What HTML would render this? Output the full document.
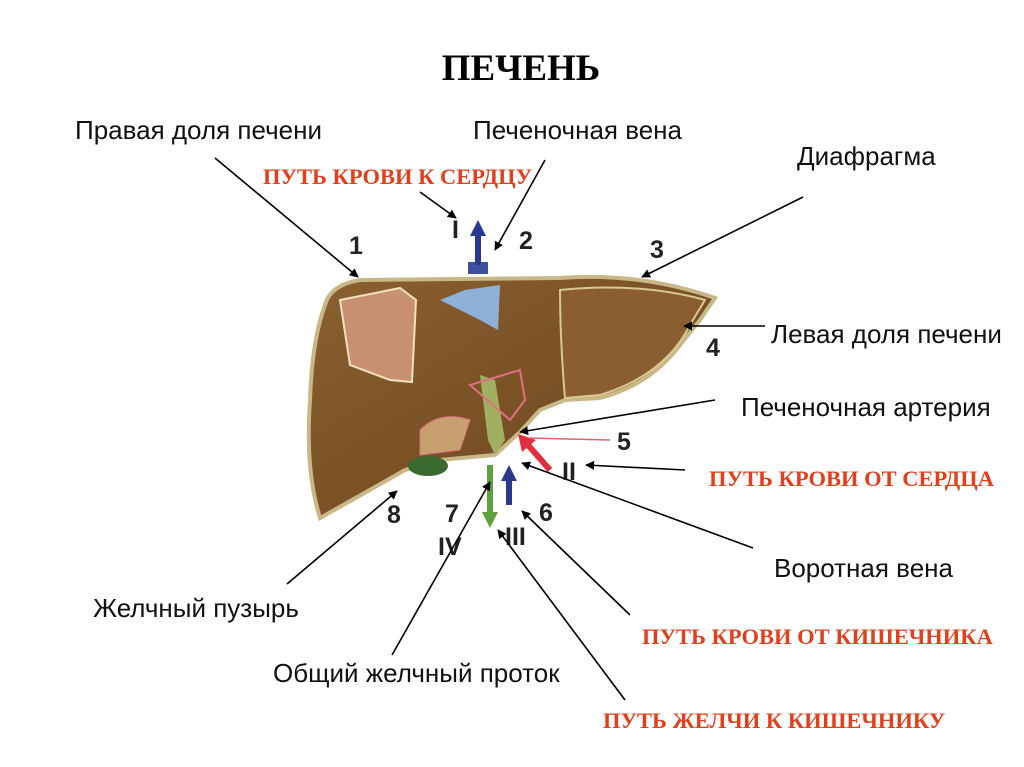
<!DOCTYPE html>
<html><head><meta charset="utf-8"><style>
body{margin:0;background:#fff;}
svg{display:block}
.t{font-family:"Liberation Sans",sans-serif;font-size:26px;fill:#111}
.r{font-family:"Liberation Serif",serif;font-weight:bold;font-size:22.5px;fill:#e0401c}
.n{font-family:"Liberation Sans",sans-serif;font-weight:bold;font-size:25px;fill:#222}
.l{stroke:#000;stroke-width:1.6;fill:none;marker-end:url(#a)}
</style></head><body>
<svg width="1024" height="767" viewBox="0 0 1024 767">
<defs>
<marker id="a" viewBox="0 0 10 10" refX="9" refY="5" markerWidth="9" markerHeight="9" orient="auto" markerUnits="userSpaceOnUse"><path d="M0,0L10,5L0,10z" fill="#000"/></marker>
<linearGradient id="g" x1="0" y1="0" x2="1" y2="1"><stop offset="0" stop-color="#8a6030"/><stop offset=".5" stop-color="#7a5226"/><stop offset="1" stop-color="#6a4520"/></linearGradient>
</defs>
<text x="521" y="80" text-anchor="middle" style="font-family:'Liberation Serif',serif;font-weight:bold;font-size:37px">ПЕЧЕНЬ</text>
<!-- liver -->
<path d="M325,305 Q330,285 360,280 L560,278 Q640,272 715,298 L700,320 L680,345 Q650,385 600,398 L565,400 L540,410 L520,432 L495,455 L440,460 L405,470 Q370,490 320,518 Q305,470 310,400 Q312,340 325,305 Z" fill="url(#g)" stroke="#c8b888" stroke-width="4"/>
<path d="M560,290 Q640,282 705,300 L690,325 Q665,375 600,395 L565,398 Q560,340 560,290Z" fill="#8a5e30" stroke="#d8c890" stroke-width="2"/>
<path d="M340,300 L400,288 L416,300 L412,382 L390,380 L350,365 Z" fill="#c89070" stroke="#f0e0c0" stroke-width="2"/>
<path d="M468,262 h20 v12 h-20z" fill="#4050a0"/>
<path d="M465,290 L500,285 L498,330 L480,320 L440,300Z" fill="#8fb0d8"/>
<path d="M480,375 L495,380 L505,440 L495,455 L488,440 Z" fill="#a0b060"/>
<path d="M470,385 L520,370 L525,400 L510,420 Z" fill="none" stroke="#e07080" stroke-width="2"/>
<path d="M420,430 Q440,410 470,420 L460,450 L420,455Z" fill="#c8a070" stroke="#e07080"/>
<ellipse cx="428" cy="466" rx="20" ry="10" fill="#3a6a30"/>
<!-- vessel arrows -->
<path d="M478,265 V232" stroke="#283a90" stroke-width="6"/><path d="M470,236 L478,220 L486,236Z" fill="#283a90"/>
<path d="M490,465 V515" stroke="#60a040" stroke-width="6"/><path d="M482,512 L490,528 L498,512Z" fill="#60a040"/>
<path d="M509,505 V478" stroke="#283a90" stroke-width="6"/><path d="M501,481 L509,465 L517,481Z" fill="#283a90"/>
<path d="M550,470 L528,445" stroke="#e03040" stroke-width="6"/><path d="M522,452 L518,434 L536,440Z" fill="#e03040"/>
<line x1="528" y1="438" x2="610" y2="440" stroke="#e06070" stroke-width="1.5"/>
<!-- numbers -->
<text class="n" x="349" y="254">1</text><text class="n" x="519" y="249">2</text><text class="n" x="650" y="258">3</text>
<text class="n" x="706" y="356">4</text><text class="n" x="617" y="450">5</text><text class="n" x="539" y="521">6</text>
<text class="n" x="445" y="522">7</text><text class="n" x="387" y="523">8</text>
<text class="n" x="452" y="238">I</text><text class="n" x="562" y="480">II</text><text class="n" x="505" y="545">III</text><text class="n" x="438" y="555">IV</text>
<!-- labels -->
<text class="t" x="75" y="139">Правая доля печени</text>
<text class="t" x="473" y="139">Печеночная вена</text>
<text class="r" x="263" y="184">ПУТЬ КРОВИ К СЕРДЦУ</text>
<text class="t" x="797" y="165">Диафрагма</text>
<text class="t" x="771" y="343">Левая доля печени</text>
<text class="t" x="741" y="416">Печеночная артерия</text>
<text class="r" x="709" y="486">ПУТЬ КРОВИ ОТ СЕРДЦА</text>
<text class="t" x="774" y="577">Воротная вена</text>
<text class="r" x="642" y="644">ПУТЬ КРОВИ ОТ КИШЕЧНИКА</text>
<text class="t" x="93" y="617">Желчный пузырь</text>
<text class="t" x="273" y="682">Общий желчный проток</text>
<text class="r" x="603" y="728">ПУТЬ ЖЕЛЧИ К КИШЕЧНИКУ</text>
<!-- leader lines -->
<line class="l" x1="215" y1="158" x2="358" y2="277"/>
<line class="l" x1="545" y1="160" x2="495" y2="250"/>
<line class="l" x1="420" y1="192" x2="456" y2="218"/>
<line class="l" x1="803" y1="197" x2="642" y2="277"/>
<line class="l" x1="765" y1="326" x2="684" y2="326"/>
<line class="l" x1="715" y1="400" x2="520" y2="432"/>
<line class="l" x1="685" y1="470" x2="586" y2="465"/>
<line class="l" x1="753" y1="548" x2="522" y2="463"/>
<line class="l" x1="630" y1="615" x2="522" y2="511"/>
<line class="l" x1="287" y1="584" x2="397" y2="491"/>
<line class="l" x1="392" y1="655" x2="490" y2="482"/>
<line class="l" x1="625" y1="700" x2="498" y2="530"/>
</svg>
</body></html>
